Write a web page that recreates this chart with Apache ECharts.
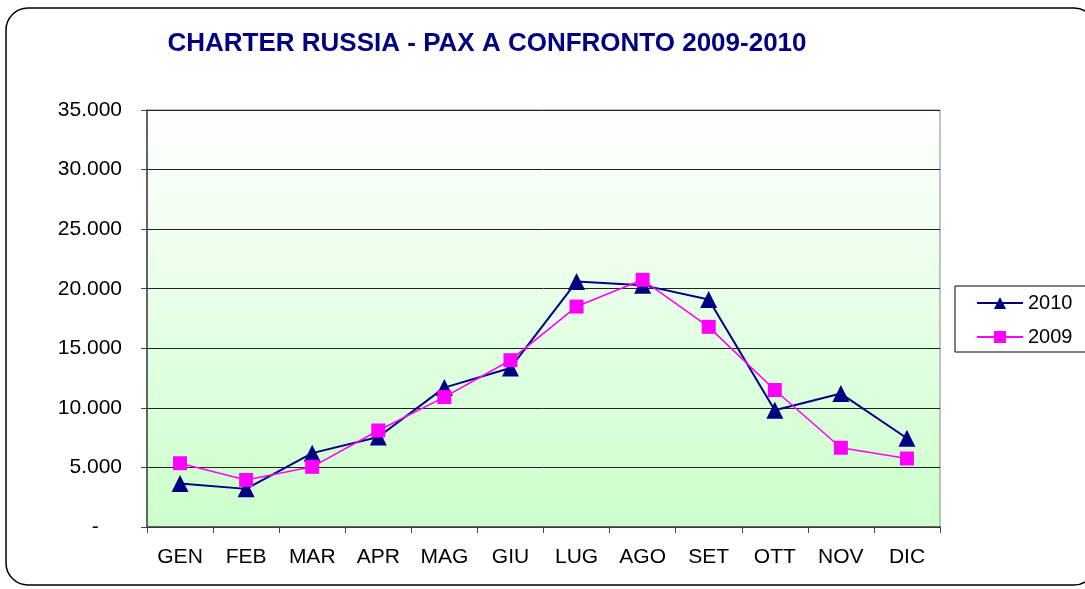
<!DOCTYPE html>
<html>
<head>
<meta charset="utf-8">
<title>Charter Russia</title>
<script src="https://cdn.jsdelivr.net/npm/echarts@6/dist/echarts.min.js"></script>
<style>
  html, body { margin: 0; padding: 0; background: #fff; }
  #main { width: 1085px; height: 589px; }
</style>
</head>
<body>
<div id="main"></div>
<script>
// mesi
const months = ['GEN', 'FEB', 'MAR', 'APR', 'MAG', 'GIU', 'LUG', 'AGO', 'SET', 'OTT', 'NOV', 'DIC'];
// passeggeri 2010
const pax2010 = [3650, 3200, 6200, 7550, 11700, 13350, 20600, 20300, 19100, 9800, 11200, 7450];
// passeggeri 2009
const pax2009 = [5350, 3950, 5050, 8100, 10900, 14000, 18500, 20750, 16800, 11500, 6650, 5750];

function fmt(v) {
    if (v === 0) return '-    ';
    return String(v).replace(/\B(?=(\d{3})+(?!\d))/g, '.');
}

let chart = echarts.init(document.getElementById('main'));
chart.setOption({
    animation: false,
    textStyle: {fontFamily: 'Liberation Sans, Arial, sans-serif'},
    title: {
        text: 'CHARTER RUSSIA - PAX A CONFRONTO 2009-2010',
        left: 482, top: 26, textAlign: 'center',
        textStyle: {color: '#000080', fontSize: 26, fontWeight: 'bold', fontFamily: 'Liberation Sans, Arial, sans-serif'}
    },
    graphic: [{
        type: 'rect', silent: true, z: -10,
        shape: {x: 6, y: 8, width: 1090, height: 577, r: 22},
        style: {fill: 'none', stroke: '#000', lineWidth: 1.5}
    }],
    legend: {
        orient: 'vertical',
        left: 955, top: 286,
        padding: [7, 30, 5, 21],
        borderColor: '#000', borderWidth: 1,
        itemWidth: 46, itemHeight: 15, itemGap: 14,
        textStyle: {fontSize: 20, color: '#000'},
        data: ['2010', '2009']
    },
    grid: {
        left: 147, right: 145, top: 110, bottom: 62,
        show: true, borderColor: '#888', borderWidth: 1,
        backgroundColor: new echarts.graphic.LinearGradient(0, 0, 0, 1, [
            {offset: 0, color: '#ffffff'},
            {offset: 1, color: '#ccffcc'}
        ])
    },
    xAxis: {
        type: 'category',
        data: months,
        boundaryGap: true,
        axisLine: {lineStyle: {color: '#444', width: 1.5}},
        axisTick: {show: true, length: 6, lineStyle: {color: '#444'}},
        axisLabel: {fontSize: 21, color: '#000', margin: 20}
    },
    yAxis: {
        type: 'value',
        min: 0, max: 35000, interval: 5000,
        axisLine: {show: true, lineStyle: {color: '#444', width: 1.5}},
        axisTick: {show: true, length: 6, lineStyle: {color: '#444'}},
        axisLabel: {fontSize: 21, color: '#000', margin: 25, formatter: fmt},
        splitLine: {lineStyle: {color: '#222', width: 1}}
    },
    series: [{
        name: '2010',
        type: 'line',
        data: pax2010,
        symbol: 'triangle', symbolSize: 17,
        color: '#000080',
        lineStyle: {width: 2, color: '#000080'},
        itemStyle: {color: '#000080'},
        z: 3
    }, {
        name: '2009',
        type: 'line',
        data: pax2009,
        symbol: 'rect', symbolSize: 14,
        color: '#ff00ff',
        lineStyle: {width: 1.6, color: '#ff00ff'},
        itemStyle: {color: '#ff00ff'},
        z: 4
    }]
});
</script>
</body>
</html>
